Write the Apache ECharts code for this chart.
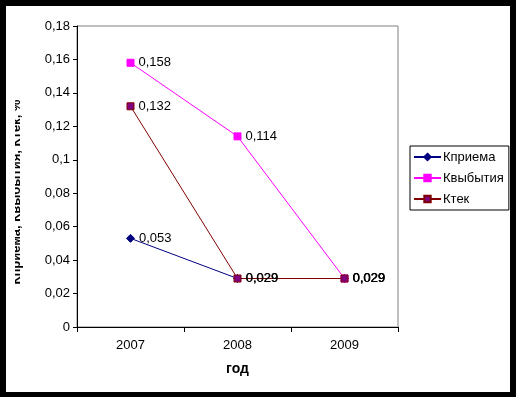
<!DOCTYPE html>
<html>
<head>
<meta charset="utf-8">
<script src="https://cdn.jsdelivr.net/npm/echarts@6/dist/echarts.min.js"></script>
<style>
  html, body { margin: 0; padding: 0; background: #000; width: 516px; height: 397px; overflow: hidden; }
  #paper { position: absolute; left: 6px; top: 6px; width: 504px; height: 386px; background: #fff; }
  #chart { position: absolute; left: 15px; top: 6px; width: 495px; height: 386px; }
</style>
</head>
<body>
<div id="paper"></div>
<div id="chart"></div>
<script>
var years = ['2007', '2008', '2009']
var kPriema = [0.053, 0.029, 0.029]
var kVybytiya = [0.158, 0.114, 0.029]
var kTek = [0.132, 0.029, 0.029]
var yTicks = [0, 0.02, 0.04, 0.06, 0.08, 0.1, 0.12, 0.14, 0.16, 0.18]

var font = 'Liberation Sans, Arial, sans-serif'

function comma(v) {
  return String(parseFloat(Number(v).toFixed(3))).replace('.', ',')
}

function makeSeries(name, data, color, symbol, lineColor, border) {
  return {
    name: name,
    type: 'line',
    data: data,
    symbol: symbol,
    symbolSize: symbol === 'diamond' ? 8 : 7,
    lineStyle: { color: lineColor, width: 1 },
    itemStyle: { color: color, borderColor: border || color, borderWidth: 1 },
    label: {
      show: true,
      position: 'right',
      distance: 4,
      color: '#000',
      fontFamily: font,
      fontSize: 13,
      formatter: function (p) { return comma(p.value) }
    },
    animation: false
  }
}

var chart = echarts.init(document.getElementById('chart'))
chart.setOption({
  textStyle: { fontFamily: font },
  grid: {
    left: 62, right: 112, top: 20, bottom: 65,
    show: true, borderColor: '#808080', borderWidth: 1, backgroundColor: 'transparent'
  },
  legend: {
    orient: 'vertical',
    left: 395,
    top: 140,
    padding: [3, 5, 3, 3],
    itemGap: 5,
    itemWidth: 27,
    itemHeight: 8,
    borderColor: '#000',
    borderWidth: 1,
    textStyle: { fontSize: 13, lineHeight: 16, height: 16, color: '#000', fontFamily: font, padding: [0, 0, 0, -3] },
    data: ['Кприема', 'Квыбытия', 'Ктек']
  },
  xAxis: {
    type: 'category',
    data: years,
    boundaryGap: true,
    name: 'год',
    nameLocation: 'middle',
    nameGap: 35,
    nameTextStyle: { fontWeight: 'bold', fontSize: 14, color: '#000', fontFamily: font },
    axisLine: { lineStyle: { color: '#000', width: 1 } },
    axisTick: { show: true, length: 5, alignWithLabel: false, lineStyle: { color: '#000' } },
    axisLabel: { color: '#000', fontSize: 13, margin: 12 },
    splitLine: { show: false }
  },
  yAxis: {
    type: 'value',
    min: yTicks[0],
    max: yTicks[yTicks.length - 1],
    interval: 0.02,
    axisLine: { show: true, lineStyle: { color: '#000', width: 1 } },
    axisTick: { show: true, length: 4, lineStyle: { color: '#000' } },
    axisLabel: { color: '#000', fontSize: 13, margin: 7, formatter: comma },
    splitLine: { show: false }
  },
  graphic: [{
    type: 'text',
    x: 1,
    y: 186,
    rotation: Math.PI / 2,
    style: {
      text: 'Кприема, Квыбытия, Ктек, %',
      fontFamily: font,
      fontSize: 13,
      fontWeight: 'bold',
      fill: '#000',
      textAlign: 'center',
      textVerticalAlign: 'middle'
    }
  }],
  series: [
    makeSeries('Кприема', kPriema, '#000080', 'diamond', '#000080'),
    makeSeries('Квыбытия', kVybytiya, '#ff00ff', 'rect', '#ff00ff'),
    makeSeries('Ктек', kTek, '#800080', 'rect', '#800000', '#800000')
  ]
})
</script>
</body>
</html>
